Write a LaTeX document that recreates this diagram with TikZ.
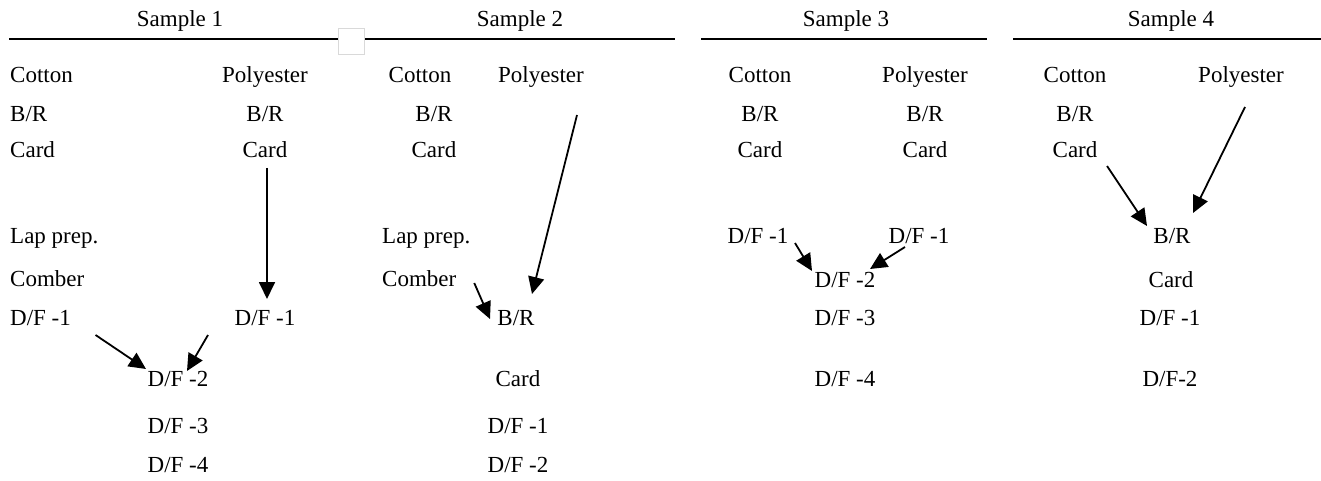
\documentclass[tikz,border=0pt]{standalone}
\usepackage{fontspec}
\setmainfont{Liberation Serif}
\usetikzlibrary{arrows.meta,calc}
\begin{document}
\begin{tikzpicture}[x=1pt,y=-1pt,
  lbl/.style={anchor=base,inner sep=0pt,font=\fontsize{23}{27}\selectfont},
  lbll/.style={lbl,anchor=base west},
  hline/.style={line width=2.2pt},
  flow/.style={line width=1.8pt,-{Triangle[length=17pt,width=16pt]}}]
\useasboundingbox[fill=white] (0,0) rectangle (1321,481);
% header rules
\draw[hline] (9,39) -- (675,39);
\draw[hline] (701,39) -- (987,39);
\draw[hline] (1013,39) -- (1321,39);
\node[draw=black!15,fill=white,line width=0.8pt,minimum width=26pt,minimum height=26pt,inner sep=0pt] (gap) at (351.5,41) {};
% headers
\node[lbl] (h1) at (180,27) {Sample 1};
\node[lbl] (h2) at (520,27) {Sample 2};
\node[lbl] (h3) at (846,27) {Sample 3};
\node[lbl] (h4) at (1171,27) {Sample 4};
% Sample 1
\node[lbll] (a1cot) at (10,83) {Cotton};
\node[lbl]  (a1pol) at (265,83) {Polyester};
\node[lbll] (a1br)  at (10,122) {B/R};
\node[lbl]  (a1brp) at (265,122) {B/R};
\node[lbll] (a1cd)  at (10,158) {Card};
\node[lbl]  (a1cdp) at (265,158) {Card};
\node[lbll] (a1lap) at (10,243) {Lap prep.};
\node[lbll] (a1com) at (10,286) {Comber};
\node[lbll] (a1df1) at (10,325) {D/F -1};
\node[lbl]  (a1df1p) at (265,325) {D/F -1};
\node[lbl]  (a1df2) at (178,386) {D/F -2};
\node[lbl]  (a1df3) at (178,433) {D/F -3};
\node[lbl]  (a1df4) at (178,472) {D/F -4};
% Sample 2
\node[lbl]  (b2cot) at (420,83) {Cotton};
\node[lbl]  (b2pol) at (541,83) {Polyester};
\node[lbl]  (b2br)  at (434,122) {B/R};
\node[lbl]  (b2cd)  at (434,158) {Card};
\node[lbll] (b2lap) at (382,243) {Lap prep.};
\node[lbll] (b2com) at (382,286) {Comber};
\node[lbl]  (b2br2) at (516,325) {B/R};
\node[lbl]  (b2cd2) at (518,386) {Card};
\node[lbl]  (b2df1) at (518,433) {D/F -1};
\node[lbl]  (b2df2) at (518,472) {D/F -2};
% Sample 3
\node[lbl]  (c3cot) at (760,83) {Cotton};
\node[lbl]  (c3pol) at (925,83) {Polyester};
\node[lbl]  (c3br)  at (760,122) {B/R};
\node[lbl]  (c3brp) at (925,122) {B/R};
\node[lbl]  (c3cd)  at (760,158) {Card};
\node[lbl]  (c3cdp) at (925,158) {Card};
\node[lbl]  (c3df1) at (758,243) {D/F -1};
\node[lbl]  (c3df1p) at (919,243) {D/F -1};
\node[lbl]  (c3df2) at (845,287) {D/F -2};
\node[lbl]  (c3df3) at (845,325) {D/F -3};
\node[lbl]  (c3df4) at (845,386) {D/F -4};
% Sample 4
\node[lbl]  (d4cot) at (1075,83) {Cotton};
\node[lbl]  (d4pol) at (1241,83) {Polyester};
\node[lbl]  (d4br)  at (1075,122) {B/R};
\node[lbl]  (d4cd)  at (1075,158) {Card};
\node[lbl]  (d4br2) at (1172,243) {B/R};
\node[lbl]  (d4cd2) at (1171,287) {Card};
\node[lbl]  (d4df1) at (1170,325) {D/F -1};
\node[lbl]  (d4df2) at (1170,386) {D/F-2};
% arrows
\draw[flow] ($(a1cdp.base)+(2,10)$) -- ($(a1df1p.base)+(2,-26)$);
\draw[flow] ($(a1df1.base)+(55,10)$) -- ($(a1df2.base)+(-32,-17)$);
\draw[flow] ($(a1df1p.base)+(-57,10)$) -- ($(a1df2.base)+(9,-15)$);
\draw[flow] ($(b2pol.base)+(36,32)$) -- ($(b2br2.base)+(16,-31)$);
\draw[flow] ($(b2com.base)+(55,-3)$) -- ($(b2br2.base)+(-26,-6)$);
\draw[flow] ($(c3df1.base)+(37,0)$) -- ($(c3df2.base)+(-33,-16)$);
\draw[flow] ($(c3df1p.base)+(-14,4)$) -- ($(c3df2.base)+(25,-18)$);
\draw[flow] ($(d4cd.base)+(32,8)$) -- ($(d4br2.base)+(-25,-17)$);
\draw[flow] ($(d4pol.base)+(4,24)$) -- ($(d4br2.base)+(21,-30)$);
\end{tikzpicture}
\end{document}
